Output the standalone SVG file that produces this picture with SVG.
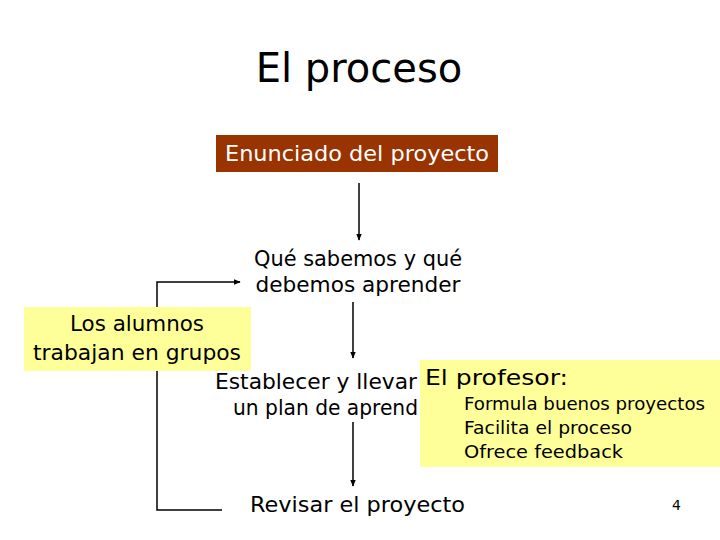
<svg xmlns="http://www.w3.org/2000/svg" width="720" height="540" viewBox="0 0 720 540">
<defs>
<marker id="ah" viewBox="0 0 10 10" refX="9" refY="5" markerWidth="7" markerHeight="7" markerUnits="userSpaceOnUse" orient="auto">
<path d="M0,1 L10,5 L0,9 Z" fill="#000"/>
</marker>
<style>
text{font-family:"DejaVu Sans","Liberation Sans",sans-serif;fill:#000}
.b{font-size:21px}
.s{font-size:18px}
.ln{stroke:#000;stroke-width:1.5;fill:none}
.yl{fill:#FFFF99}
</style>
</defs>
<rect width="720" height="540" fill="#fff"/>
<g id="title"><text x="359" y="82" font-size="40" text-anchor="middle">El proceso</text></g>
<g id="connectors">
<line class="ln" x1="359" y1="183" x2="359" y2="240" marker-end="url(#ah)"/>
<line class="ln" x1="353" y1="302" x2="353" y2="358" marker-end="url(#ah)"/>
<line class="ln" x1="353" y1="422" x2="353" y2="486" marker-end="url(#ah)"/>
<polyline class="ln" points="222,510 157,510 157,282 240,282" marker-end="url(#ah)"/>
</g>
<g id="enunciado">
<rect x="216" y="135" width="282" height="37" fill="#993300"/>
<text x="357" y="161" class="b" text-anchor="middle" textLength="264" lengthAdjust="spacingAndGlyphs" style="fill:#fff">Enunciado del proyecto</text>
</g>
<g id="que">
<text x="358" y="266" class="b" text-anchor="middle" textLength="208" lengthAdjust="spacingAndGlyphs">Qué sabemos y qué</text>
<text x="358" y="292" class="b" text-anchor="middle" textLength="205" lengthAdjust="spacingAndGlyphs">debemos aprender</text>
</g>
<g id="establecer">
<text x="215" y="389" class="b" textLength="202" lengthAdjust="spacingAndGlyphs">Establecer y llevar</text>
<text x="233" y="415" class="b" textLength="185" lengthAdjust="spacingAndGlyphs">un plan de aprend</text>
</g>
<g id="alumnos">
<rect x="24" y="307" width="227" height="64" class="yl"/>
<text x="137" y="331" class="b" text-anchor="middle" textLength="134" lengthAdjust="spacingAndGlyphs">Los alumnos</text>
<text x="137" y="360" class="b" text-anchor="middle" textLength="208" lengthAdjust="spacingAndGlyphs">trabajan en grupos</text>
</g>
<g id="profesor">
<rect x="420" y="360" width="300" height="107" class="yl"/>
<text x="425" y="385" font-size="22" textLength="143" lengthAdjust="spacingAndGlyphs">El profesor:</text>
<text x="464" y="410" class="s" textLength="241" lengthAdjust="spacingAndGlyphs">Formula buenos proyectos</text>
<text x="464" y="434" class="s" textLength="168" lengthAdjust="spacingAndGlyphs">Facilita el proceso</text>
<text x="464" y="458" class="s" textLength="159" lengthAdjust="spacingAndGlyphs">Ofrece feedback</text>
</g>
<g id="revisar"><text x="250" y="512" class="b" textLength="215" lengthAdjust="spacingAndGlyphs">Revisar el proyecto</text></g>
<g id="page"><text x="672" y="510" font-size="14">4</text></g>
</svg>
